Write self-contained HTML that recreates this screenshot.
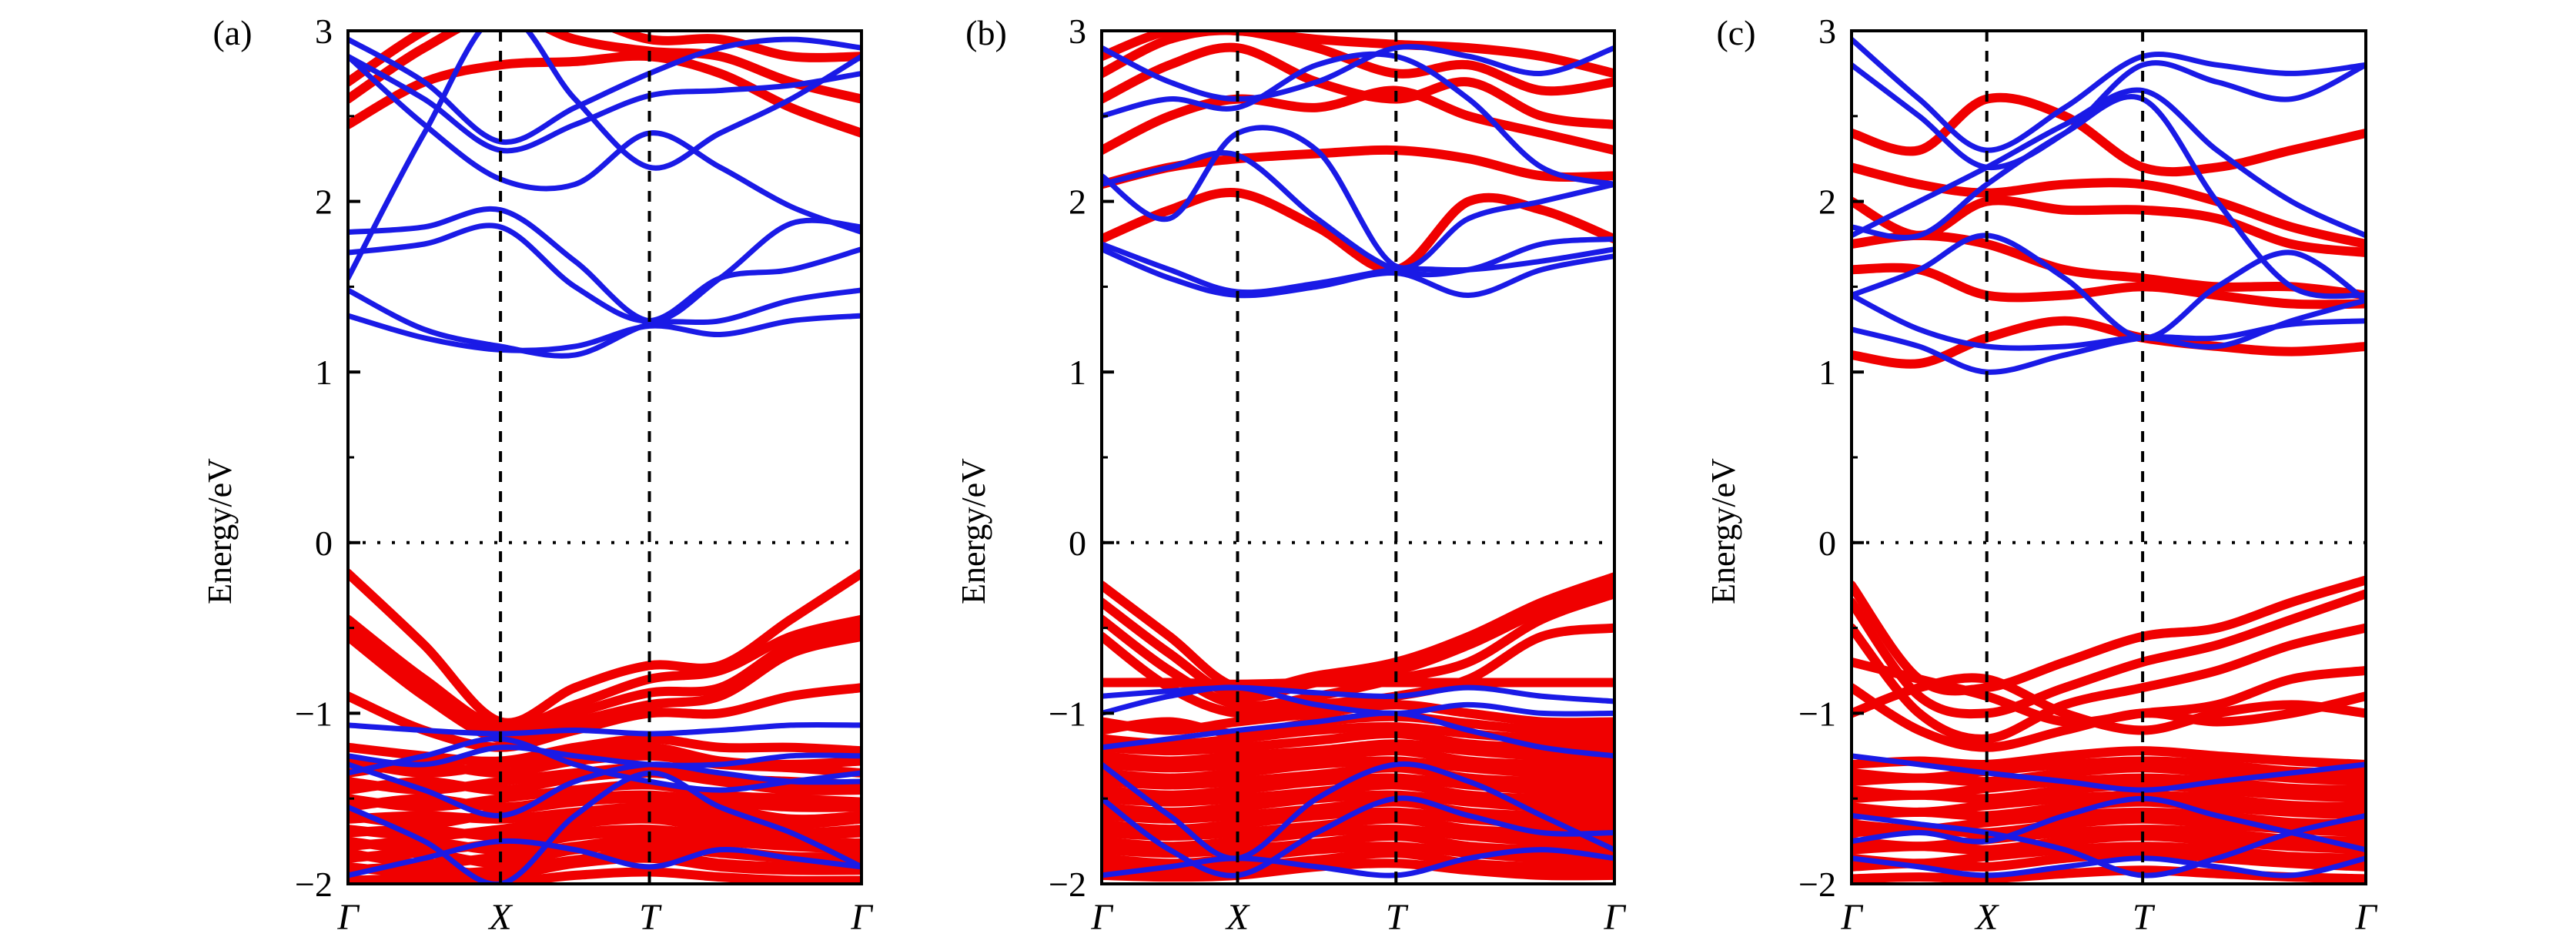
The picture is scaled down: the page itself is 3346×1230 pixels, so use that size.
<!DOCTYPE html>
<html><head><meta charset="utf-8"><style>
html,body{margin:0;padding:0;background:#fff;}
svg{display:block;}
text{font-family:"Liberation Serif",serif;fill:#000;}
</style></head><body>
<svg id="chart" width="3346" height="1230" viewBox="0 0 3346 1230" xmlns="http://www.w3.org/2000/svg"></svg>
<script>
// k-point positions (index units: Γ=0, X=1, T=2, Γ=3)
const kPoints = [0, 0.5, 1, 1.5, 2, 2.333, 2.667, 3];
const yTicks = [-2, -1, 0, 1, 2, 3];
const kLabels = ["Γ", "X", "T", "Γ"];
const panelLetters = ["(a)", "(b)", "(c)"];

// Panel (a)
const aBlue = [
 [1.33,1.20,1.13,1.15,1.27,1.22,1.30,1.33],
 [1.48,1.25,1.15,1.10,1.28,1.30,1.42,1.48],
 [1.70,1.75,1.85,1.50,1.30,1.55,1.60,1.72],
 [1.82,1.85,1.95,1.65,1.30,1.55,1.87,1.85],
 [2.85,2.45,2.13,2.10,2.40,2.20,1.97,1.82],
 [2.85,2.60,2.30,2.45,2.62,2.65,2.68,2.75],
 [2.95,2.70,2.35,2.55,2.75,2.90,2.95,2.90],
 [1.55,2.40,3.10,2.60,2.20,2.40,2.60,2.85],
 [-1.07,-1.10,-1.12,-1.10,-1.12,-1.10,-1.07,-1.07],
 [-1.25,-1.30,-1.20,-1.25,-1.30,-1.30,-1.25,-1.25],
 [-1.30,-1.45,-1.60,-1.40,-1.30,-1.35,-1.40,-1.40],
 [-1.55,-1.75,-2.00,-1.60,-1.35,-1.55,-1.70,-1.90],
 [-1.95,-1.85,-1.75,-1.80,-1.90,-1.80,-1.85,-1.90],
 [-1.35,-1.25,-1.15,-1.30,-1.40,-1.45,-1.40,-1.35]
];
const aRed = [
 [2.45,2.70,2.80,2.82,2.85,2.75,2.55,2.40],
 [2.60,2.90,3.10,2.95,2.88,2.85,2.70,2.60],
 [2.70,3.00,3.20,3.10,2.95,2.95,2.85,2.85],
 [-0.18,-0.60,-1.05,-0.85,-0.72,-0.72,-0.45,-0.18],
 [-0.45,-0.80,-1.08,-0.95,-0.80,-0.75,-0.55,-0.45],
 [-0.50,-0.85,-1.12,-1.00,-0.88,-0.85,-0.60,-0.50],
 [-0.55,-0.90,-1.15,-1.05,-0.95,-0.90,-0.65,-0.55],
 [-0.90,-1.10,-1.20,-1.10,-1.00,-1.00,-0.90,-0.85],
 [-1.20,-1.25,-1.28,-1.20,-1.15,-1.20,-1.20,-1.22],
 [-1.28,-1.35,-1.30,-1.25,-1.20,-1.28,-1.30,-1.28],
 [-1.35,-1.30,-1.35,-1.28,-1.25,-1.30,-1.32,-1.35],
 [-1.40,-1.45,-1.40,-1.35,-1.32,-1.38,-1.40,-1.42],
 [-1.45,-1.40,-1.45,-1.38,-1.35,-1.40,-1.45,-1.45],
 [-1.50,-1.55,-1.50,-1.45,-1.42,-1.48,-1.50,-1.52],
 [-1.55,-1.50,-1.55,-1.50,-1.48,-1.52,-1.55,-1.55],
 [-1.60,-1.65,-1.58,-1.52,-1.50,-1.55,-1.62,-1.60],
 [-1.62,-1.60,-1.62,-1.58,-1.55,-1.60,-1.65,-1.62],
 [-1.68,-1.72,-1.68,-1.62,-1.60,-1.65,-1.70,-1.68],
 [-1.70,-1.68,-1.72,-1.65,-1.62,-1.68,-1.72,-1.70],
 [-1.75,-1.80,-1.76,-1.70,-1.68,-1.72,-1.76,-1.76],
 [-1.78,-1.75,-1.80,-1.72,-1.70,-1.75,-1.78,-1.80],
 [-1.82,-1.88,-1.84,-1.78,-1.74,-1.80,-1.84,-1.84],
 [-1.85,-1.82,-1.88,-1.80,-1.78,-1.82,-1.85,-1.85],
 [-1.90,-1.94,-1.92,-1.86,-1.82,-1.88,-1.90,-1.90],
 [-1.92,-1.90,-1.95,-1.88,-1.85,-1.90,-1.92,-1.92],
 [-1.98,-1.97,-1.99,-1.95,-1.93,-1.96,-1.98,-1.98]
];
// Panel (b)
const bBlue = [
 [1.72,1.55,1.45,1.50,1.58,1.45,1.60,1.68],
 [1.75,1.60,1.47,1.52,1.60,1.60,1.65,1.72],
 [2.10,2.20,2.27,1.90,1.60,1.60,1.75,1.78],
 [2.15,1.90,2.40,2.30,1.62,1.90,2.00,2.10],
 [2.50,2.60,2.55,2.80,2.85,2.60,2.20,2.10],
 [2.90,2.70,2.60,2.70,2.90,2.85,2.75,2.90],
 [-0.90,-0.87,-0.85,-0.88,-0.90,-0.85,-0.90,-0.93],
 [-1.00,-0.90,-0.85,-0.95,-1.00,-0.95,-1.00,-1.00],
 [-1.30,-1.60,-1.85,-1.50,-1.30,-1.40,-1.60,-1.80],
 [-1.50,-1.80,-1.95,-1.70,-1.50,-1.60,-1.70,-1.70],
 [-1.95,-1.90,-1.85,-1.90,-1.95,-1.85,-1.80,-1.85],
 [-1.20,-1.15,-1.10,-1.05,-1.00,-1.10,-1.20,-1.25]
];
const bRed = [
 [1.78,1.95,2.05,1.85,1.60,2.00,1.95,1.78],
 [2.10,2.20,2.25,2.28,2.30,2.25,2.15,2.15],
 [2.30,2.50,2.60,2.55,2.65,2.50,2.40,2.30],
 [2.60,2.80,2.90,2.70,2.60,2.70,2.50,2.45],
 [2.75,2.95,3.00,2.90,2.75,2.80,2.65,2.70],
 [2.85,3.00,3.00,2.95,2.92,2.90,2.85,2.75],
 [-0.25,-0.55,-0.85,-0.78,-0.70,-0.55,-0.35,-0.20],
 [-0.35,-0.65,-0.90,-0.82,-0.75,-0.60,-0.40,-0.25],
 [-0.45,-0.75,-0.95,-0.90,-0.80,-0.70,-0.45,-0.30],
 [-0.55,-0.85,-1.00,-0.95,-0.90,-0.80,-0.55,-0.50],
 [-0.82,-0.82,-0.83,-0.82,-0.82,-0.82,-0.82,-0.82],
 [-1.05,-1.10,-1.05,-1.00,-0.95,-1.00,-1.05,-1.05],
 [-1.10,-1.05,-1.12,-1.05,-1.02,-1.06,-1.10,-1.10],
 [-1.15,-1.18,-1.15,-1.10,-1.08,-1.12,-1.15,-1.15],
 [-1.20,-1.22,-1.20,-1.16,-1.12,-1.18,-1.20,-1.20],
 [-1.25,-1.28,-1.25,-1.22,-1.18,-1.22,-1.25,-1.25],
 [-1.30,-1.32,-1.30,-1.26,-1.22,-1.28,-1.30,-1.30],
 [-1.35,-1.38,-1.35,-1.30,-1.28,-1.32,-1.35,-1.35],
 [-1.40,-1.42,-1.40,-1.36,-1.32,-1.38,-1.40,-1.40],
 [-1.45,-1.48,-1.45,-1.40,-1.38,-1.42,-1.45,-1.45],
 [-1.50,-1.52,-1.50,-1.46,-1.42,-1.48,-1.50,-1.50],
 [-1.55,-1.58,-1.55,-1.50,-1.48,-1.52,-1.55,-1.55],
 [-1.60,-1.62,-1.60,-1.56,-1.52,-1.58,-1.60,-1.60],
 [-1.65,-1.68,-1.65,-1.60,-1.58,-1.62,-1.65,-1.65],
 [-1.70,-1.72,-1.70,-1.66,-1.62,-1.68,-1.70,-1.70],
 [-1.75,-1.78,-1.75,-1.70,-1.68,-1.72,-1.75,-1.75],
 [-1.80,-1.82,-1.80,-1.76,-1.72,-1.78,-1.80,-1.80],
 [-1.85,-1.88,-1.85,-1.80,-1.78,-1.82,-1.85,-1.85],
 [-1.90,-1.92,-1.90,-1.86,-1.82,-1.88,-1.90,-1.90],
 [-1.95,-1.96,-1.95,-1.90,-1.88,-1.92,-1.95,-1.95]
];
// Panel (c)
const cBlue = [
 [1.25,1.15,1.00,1.10,1.20,1.20,1.28,1.30],
 [1.45,1.25,1.15,1.15,1.20,1.15,1.30,1.42],
 [1.45,1.60,1.80,1.55,1.20,1.50,1.70,1.42],
 [1.80,2.00,2.20,2.45,2.65,2.30,2.00,1.80],
 [2.80,2.50,2.20,2.40,2.80,2.70,2.60,2.80],
 [2.95,2.60,2.30,2.55,2.85,2.80,2.75,2.80],
 [1.85,1.80,2.10,2.40,2.60,2.00,1.50,1.45],
 [-1.25,-1.30,-1.35,-1.40,-1.45,-1.40,-1.35,-1.30],
 [-1.75,-1.70,-1.75,-1.60,-1.50,-1.60,-1.70,-1.80],
 [-1.85,-1.90,-1.95,-1.90,-1.85,-1.90,-1.95,-1.85],
 [-1.60,-1.65,-1.70,-1.80,-1.95,-1.85,-1.70,-1.60]
];
const cRed = [
 [1.10,1.05,1.20,1.30,1.20,1.15,1.12,1.15],
 [1.60,1.60,1.45,1.45,1.50,1.45,1.40,1.40],
 [1.75,1.80,1.75,1.60,1.55,1.50,1.50,1.45],
 [2.00,1.80,2.00,1.95,1.95,1.90,1.75,1.70],
 [2.20,2.10,2.05,2.10,2.10,2.00,1.85,1.75],
 [2.40,2.30,2.60,2.50,2.20,2.20,2.30,2.40],
 [-0.25,-0.80,-0.85,-0.70,-0.55,-0.50,-0.35,-0.22],
 [-0.35,-0.90,-1.00,-0.85,-0.70,-0.60,-0.45,-0.30],
 [-0.50,-1.00,-1.15,-0.95,-0.85,-0.75,-0.60,-0.50],
 [-0.70,-0.80,-0.90,-1.05,-1.00,-0.95,-0.80,-0.75],
 [-0.85,-1.10,-1.20,-1.10,-1.00,-1.05,-1.00,-0.90],
 [-1.00,-0.85,-0.80,-1.00,-1.10,-1.00,-0.95,-1.00],
 [-1.30,-1.28,-1.30,-1.25,-1.22,-1.25,-1.28,-1.30],
 [-1.35,-1.38,-1.34,-1.30,-1.28,-1.30,-1.34,-1.35],
 [-1.40,-1.38,-1.40,-1.35,-1.32,-1.35,-1.38,-1.40],
 [-1.45,-1.48,-1.44,-1.40,-1.38,-1.40,-1.44,-1.45],
 [-1.50,-1.48,-1.50,-1.45,-1.42,-1.45,-1.48,-1.50],
 [-1.55,-1.58,-1.54,-1.50,-1.48,-1.50,-1.54,-1.55],
 [-1.60,-1.58,-1.60,-1.55,-1.52,-1.55,-1.58,-1.60],
 [-1.65,-1.68,-1.64,-1.60,-1.58,-1.60,-1.64,-1.65],
 [-1.70,-1.68,-1.70,-1.65,-1.62,-1.65,-1.68,-1.70],
 [-1.75,-1.78,-1.74,-1.70,-1.68,-1.70,-1.74,-1.75],
 [-1.80,-1.78,-1.80,-1.75,-1.72,-1.75,-1.78,-1.80],
 [-1.85,-1.88,-1.84,-1.80,-1.78,-1.80,-1.84,-1.85],
 [-1.90,-1.88,-1.90,-1.85,-1.82,-1.85,-1.88,-1.90],
 [-1.97,-1.96,-1.97,-1.94,-1.92,-1.94,-1.96,-1.97]
];

const NS = "http://www.w3.org/2000/svg";
const svg = document.getElementById("chart");
const TOP = 40, BOT = 1148, YMIN = -2, YMAX = 3;
const panels = [
 {left:452, width:667, fx:0.297, ft:0.587, blue:aBlue, red:aRed},
 {left:1431, width:666, fx:0.265, ft:0.574, blue:bBlue, red:bRed},
 {left:2405, width:668, fx:0.263, ft:0.566, blue:cBlue, red:cRed}
];
function yScale(v){ return TOP + (YMAX - v) / (YMAX - YMIN) * (BOT - TOP); }
function mk(tag, attrs){ const e=document.createElementNS(NS,tag); for(const k in attrs) e.setAttribute(k,attrs[k]); return e; }
function path(p, vals){
  const pts = vals.map((v,i)=>[p.xScale(kPoints[i]), yScale(v)]);
  let d = "M"+pts[0][0]+","+pts[0][1];
  for(let i=0;i<pts.length-1;i++){
    const p0=pts[Math.max(0,i-1)], p1=pts[i], p2=pts[i+1], p3=pts[Math.min(pts.length-1,i+2)];
    const c1=[p1[0]+(p2[0]-p0[0])/6, p1[1]+(p2[1]-p0[1])/6];
    const c2=[p2[0]-(p3[0]-p1[0])/6, p2[1]-(p3[1]-p1[1])/6];
    d += " C"+c1[0]+","+c1[1]+" "+c2[0]+","+c2[1]+" "+p2[0]+","+p2[1];
  }
  return d;
}
panels.forEach((p, pi)=>{
  p.xScale = function(k){
    let f;
    if(k<=1) f = p.fx*k;
    else if(k<=2) f = p.fx + (p.ft-p.fx)*(k-1);
    else f = p.ft + (1-p.ft)*(k-2);
    return p.left + f*p.width;
  };
  const g = mk("g",{});
  
  
  svg.appendChild(g);
  const cp = mk("clipPath",{id:"clip"+pi});
  cp.appendChild(mk("rect",{x:p.left,y:TOP,width:p.width,height:BOT-TOP}));
  g.appendChild(cp);
  const bands = mk("g",{"clip-path":"url(#clip"+pi+")"});
  
  
  g.appendChild(bands);
  p.red.forEach((vals)=>{
    const e = mk("path",{d:path(p,vals),fill:"none",stroke:"#f00000","stroke-width":12,"stroke-linecap":"round"});
    
    
    bands.appendChild(e);
  });
  p.blue.forEach((vals)=>{
    const e = mk("path",{d:path(p,vals),fill:"none",stroke:"#1a1ae6","stroke-width":7,"stroke-linecap":"round"});
    
    
    bands.appendChild(e);
  });
  [1,2].forEach(k=>{
    const x = p.xScale(k);
    const l = mk("line",{x1:x,x2:x,y1:TOP,y2:BOT,stroke:"#000","stroke-width":4,"stroke-dasharray":"14 12"});
    
    
    g.appendChild(l);
  });
  const z = mk("line",{x1:p.left,x2:p.left+p.width,y1:yScale(0),y2:yScale(0),stroke:"#000","stroke-width":4,"stroke-dasharray":"4 15"});
  
  
  g.appendChild(z);
  const fr = mk("rect",{x:p.left,y:TOP,width:p.width,height:BOT-TOP,fill:"none",stroke:"#000","stroke-width":4});
  
  
  g.appendChild(fr);
  yTicks.forEach(v=>{
    const y = yScale(v);
    const t = mk("line",{x1:p.left,x2:p.left+16,y1:y,y2:y,stroke:"#000","stroke-width":4});
    
    
    g.appendChild(t);
    const lb = mk("text",{x:p.left-20,y:y+16,"font-size":46,"text-anchor":"end"});
    lb.textContent = v<0 ? "−"+(-v) : String(v);
    
    
    g.appendChild(lb);
  });
  [-1.5,-0.5,0.5,1.5,2.5].forEach(v=>{
    const t = mk("line",{x1:p.left,x2:p.left+8,y1:yScale(v),y2:yScale(v),stroke:"#000","stroke-width":3});
    
    
    g.appendChild(t);
  });
  kLabels.forEach((s,k)=>{
    const lb = mk("text",{x:p.xScale(k),y:1207,"font-size":48,"font-style":"italic","text-anchor":"middle"});
    lb.textContent = s;
    
    
    g.appendChild(lb);
  });
  const tx = p.left - 152, ty = 690;
  const yt = mk("text",{x:tx,y:ty,"font-size":44,"text-anchor":"middle",transform:"rotate(-90 "+tx+" "+ty+")"});
  yt.textContent = "Energy/eV";
  
  
  g.appendChild(yt);
  const pl = mk("text",{x:p.left-150,y:58,"font-size":46,"text-anchor":"middle"});
  pl.textContent = panelLetters[pi];
  
  
  g.appendChild(pl);
});
</script>
</body></html>
